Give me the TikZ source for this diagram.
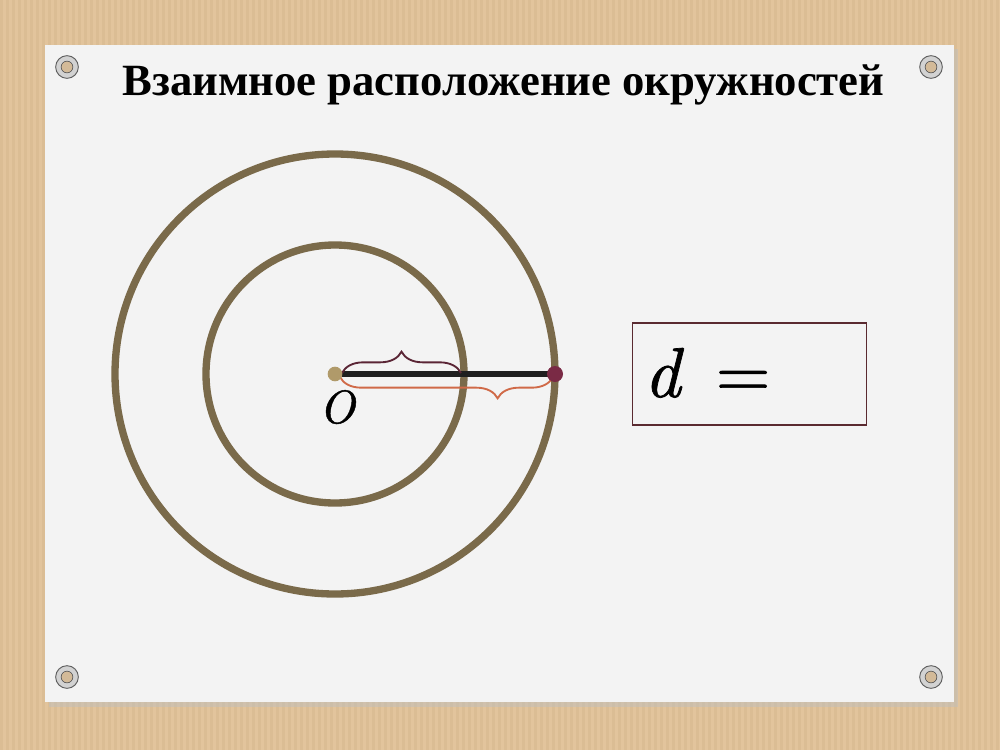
\documentclass[tikz,border=0pt]{standalone}
\usepackage{fontspec}
\setmainfont{Liberation Serif}
\newfontfamily\lmheavy{lmroman10-regular.otf}[ItalicFont=lmroman10-italic.otf,FakeBold=1]
\usetikzlibrary{decorations.pathreplacing,calc}
\definecolor{wood}{HTML}{E2C49C}
\definecolor{woodd}{HTML}{D6B78E}
\definecolor{card}{HTML}{F3F3F3}
\definecolor{ring}{HTML}{7A6A4A}
\definecolor{dotO}{HTML}{B09A6A}
\definecolor{dotE}{HTML}{7A2A45}
\definecolor{braceA}{HTML}{5A2535}
\definecolor{braceB}{HTML}{D06A48}
\definecolor{boxc}{HTML}{5A2A30}
\tikzset{
  circ/.style={draw=ring,line width=5.5pt},
  rivet/.style={circle,minimum size=17pt,inner sep=0pt,fill=gray!35,draw=gray!75!black,line width=0.7pt,
    path picture={\fill[wood!85!gray] (path picture bounding box.center) circle (4.4pt);
                  \draw[gray!70!black,line width=0.5pt] (path picture bounding box.center) circle (4.4pt);}},
  bracestyle/.style={decorate,line width=1.4pt},
}
\begin{document}
\begin{tikzpicture}[x=0.75pt,y=-0.75pt]
\useasboundingbox (0,0) rectangle (1000,750);
\fill[wood] (0,0) rectangle (1000,750);
\foreach \i in {0,6,...,1000} {\fill[woodd,opacity=0.5] (\i,0) rectangle (\i+2.5,750);}
\fill[black!25,opacity=0.5] (49,49) rectangle (958,707);
\fill[card] (45,45) rectangle (954,702);
\node[rivet] (r1) at (67,67) {};
\node[rivet] (r2) at (931,67) {};
\node[rivet] (r3) at (67,677) {};
\node[rivet] (r4) at (931,677) {};
\node[anchor=base] (title) at (503.5,95) {\fontsize{33.5}{38}\selectfont\bfseries Взаимное расположение окружностей};
\coordinate (O) at (335,374);
\draw[circ] (O) circle (220);
\draw[circ] (O) circle (129);
\coordinate (A) at (555,374);
\draw[black!88,line width=4.6pt] (O) -- (A);
\draw[braceA,bracestyle,decoration={brace,amplitude=16pt}] (342,373) -- (461,373);
\draw[braceB,bracestyle,decoration={brace,mirror,amplitude=16pt,aspect=0.74}] (340,377) -- (553,377);
\node[circle,fill=dotO,inner sep=0pt,minimum size=11pt] (Odot) at (O) {};
\node[circle,fill=dotE,inner sep=0pt,minimum size=12pt] (Adot) at (A) {};
\node[anchor=base,inner sep=0pt] (Olab) at (337,423) {\lmheavy\itshape\fontsize{35}{38}\selectfont O};
\node[draw=boxc,line width=1pt,minimum width=175.5pt,minimum height=76.5pt,inner sep=0pt] (box) at (749.5,374) {};
\node[anchor=base west,inner sep=0pt] (deq) at (644,397) {\lmheavy\fontsize{53}{58}\selectfont\textit{d}\hspace{0.45em}=};
\end{tikzpicture}
\end{document}
